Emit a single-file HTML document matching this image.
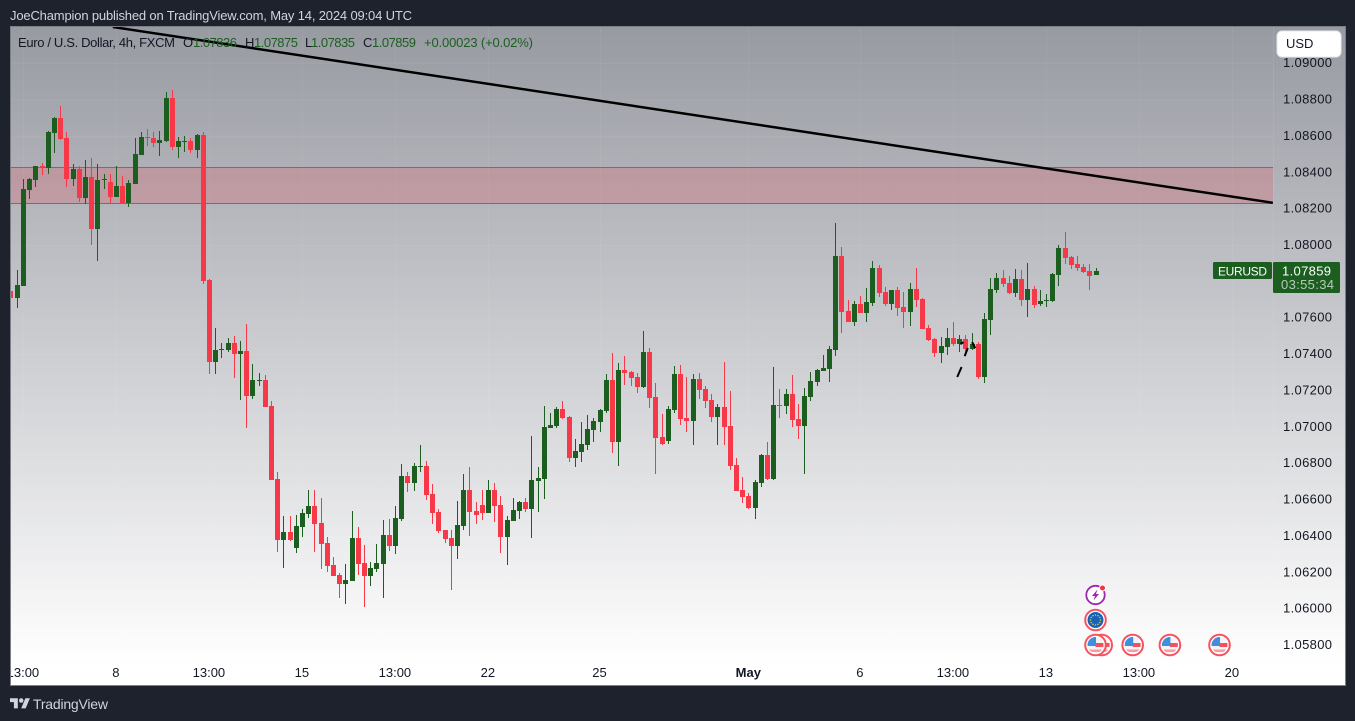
<!DOCTYPE html>
<html lang="en">
<head>
<meta charset="utf-8">
<title>EURUSD 4h chart</title>
<style>
html,body{margin:0;padding:0;background:#1e222d;width:1355px;height:721px;overflow:hidden}
svg{display:block;font-family:"Liberation Sans",sans-serif}
text{font-family:"Liberation Sans",sans-serif}
</style>
</head>
<body>
<svg id="chart" xmlns="http://www.w3.org/2000/svg" width="1355" height="721" viewBox="0 0 1355 721">
  <defs>
    <linearGradient id="paneGradient" x1="0" y1="0" x2="0" y2="1">
      <stop offset="0" stop-color="#989aa2"/>
      <stop offset="0.97" stop-color="#ffffff"/>
      <stop offset="1" stop-color="#ffffff"/>
    </linearGradient>
    <clipPath id="paneClip"><rect x="11" y="27" width="1262" height="628"/></clipPath>
    <clipPath id="frameClip"><rect x="11" y="27" width="1334" height="658"/></clipPath>
  </defs>
  <rect x="0" y="0" width="1355" height="721" fill="#1e222d"/>
  <text x="10" y="20" font-size="13" fill="#d1d4dc" textLength="402" lengthAdjust="spacing">JoeChampion published on TradingView.com, May 14, 2024 09:04 UTC</text>
  <rect x="10.5" y="26.5" width="1335" height="659" fill="none" stroke="#7d7f87" stroke-width="1"/>
  <rect x="11" y="27" width="1334" height="658" fill="url(#paneGradient)"/>
  <g id="gridLayer"></g>
  <g id="zoneLayer" clip-path="url(#paneClip)"></g>
  <g id="candleLayer" clip-path="url(#paneClip)"></g>
  <g id="drawingLayer" clip-path="url(#paneClip)"></g>
  <g font-size="13">
    <text x="18" y="47" fill="#131722" textLength="157" lengthAdjust="spacing">Euro / U.S. Dollar, 4h, FXCM</text>
    <text x="183" y="47" fill="#131722">O</text>
    <text x="193" y="47" fill="#1b5e20" textLength="44">1.07836</text>
    <text x="245" y="47" fill="#131722">H</text>
    <text x="254" y="47" fill="#1b5e20" textLength="44">1.07875</text>
    <text x="305" y="47" fill="#131722">L</text>
    <text x="311" y="47" fill="#1b5e20" textLength="44">1.07835</text>
    <text x="363" y="47" fill="#131722">C</text>
    <text x="372" y="47" fill="#1b5e20" textLength="44">1.07859</text>
    <text x="424" y="47" fill="#1b5e20" textLength="109">+0.00023 (+0.02%)</text>
  </g>
  <g id="eventLayer"></g>
  <g id="axisLayer" clip-path="url(#frameClip)"></g>
  <g>
    <rect x="1277" y="31" width="64" height="26" rx="5" fill="#ffffff" stroke="#e6e7ea" stroke-width="1"/>
    <text x="1286" y="48" font-size="13" fill="#131722">USD</text>
  </g>
  <g id="badgeLayer"></g>
  <g>
    <g transform="translate(10,696) scale(0.56)" fill="#d1d4dc">
      <path d="M14 22H7V11H0V4h14v18z"/>
      <circle cx="20" cy="8" r="4"/>
      <path d="M28 22h-8l7.5-18h8L28 22z"/>
    </g>
    <text x="33" y="709" font-size="14" font-weight="400" fill="#d1d4dc" textLength="75">TradingView</text>
  </g>
</svg>
<script>
const firstBar = -2;
const opens = [
1.07747,1.07708,1.07774,1.08303,1.08358,1.08432,1.08424,1.08616,1.08699,1.08589,
1.08363,1.08418,1.08259,1.08374,1.08088,1.08358,1.08347,1.08264,1.08325,1.08231,
1.08336,1.08495,1.08594,1.08589,1.08561,1.08572,1.08809,1.08539,1.08567,1.08572,
1.08523,1.08605,1.07807,1.07356,1.07422,1.07422,1.07461,1.07400,1.07417,1.07169,
1.07252,1.07257,1.07114,1.06713,1.06377,1.06421,1.06333,1.06449,1.06520,1.06564,
1.06471,1.06361,1.06240,1.06185,1.06135,1.06152,1.06388,1.06251,1.06179,1.06218,
1.06245,1.06405,1.06344,1.06493,1.06729,1.06691,1.06779,1.06784,1.06630,1.06531,
1.06432,1.06388,1.06344,1.06454,1.06652,1.06537,1.06570,1.06526,1.06652,1.06570,
1.06394,1.06482,1.06537,1.06586,1.06548,1.06702,1.06713,1.06993,1.07004,1.07098,
1.07054,1.06828,1.06861,1.06900,1.06982,1.07026,1.07087,1.07257,1.06916,1.07312,
1.07301,1.07274,1.07219,1.07411,1.07164,1.06944,1.06922,1.07092,1.07290,1.07048,
1.07032,1.07263,1.07208,1.07147,1.07054,1.07109,1.07004,1.06790,1.06652,1.06619,
1.06553,1.06691,1.06845,1.06713,1.07120,1.07114,1.07180,1.07043,1.07004,1.07164,
1.07246,1.07307,1.07318,1.07422,1.07939,1.07637,1.07576,1.07675,1.07626,1.07681,
1.07873,1.07741,1.07675,1.07752,1.07659,1.07631,1.07758,1.07703,1.07543,1.07483,
1.07406,1.07439,1.07488,1.07455,1.07483,1.07428,1.07455,1.07274,1.07587,1.07752,
1.07818,1.07791,1.07736,1.07813,1.07697,1.07758,1.07675,1.07692,1.07692,1.07835,
1.07983,1.07934,1.07895,1.07879,1.07857,1.07836
];
const highs = [
1.07774,1.07862,1.08363,1.08369,1.08435,1.08451,1.08627,1.08704,1.08765,1.08622,
1.08446,1.08435,1.08468,1.08479,1.08446,1.08391,1.08391,1.08435,1.08380,1.08358,
1.08589,1.08622,1.08638,1.08622,1.08627,1.08842,1.08853,1.08594,1.08600,1.08589,
1.08611,1.08622,1.07813,1.07543,1.07461,1.07488,1.07499,1.07472,1.07565,1.07345,
1.07296,1.07285,1.07142,1.06751,1.06509,1.06509,1.06515,1.06548,1.06652,1.06652,
1.06608,1.06394,1.06284,1.06196,1.06245,1.06537,1.06449,1.06350,1.06256,1.06355,
1.06487,1.06493,1.06564,1.06795,1.06751,1.06801,1.06900,1.06812,1.06685,1.06548,
1.06432,1.06432,1.06592,1.06740,1.06779,1.06586,1.06652,1.06707,1.06691,1.06619,
1.06509,1.06608,1.06592,1.06608,1.06949,1.06779,1.07114,1.07076,1.07109,1.07142,
1.07059,1.06933,1.07026,1.07065,1.07048,1.07098,1.07290,1.07406,1.07351,1.07389,
1.07307,1.07296,1.07527,1.07433,1.07241,1.07070,1.07114,1.07334,1.07340,1.07274,
1.07290,1.07296,1.07224,1.07180,1.07125,1.07356,1.07197,1.06828,1.06724,1.06636,
1.06707,1.06850,1.06916,1.07329,1.07208,1.07208,1.07285,1.07125,1.07213,1.07301,
1.07318,1.07395,1.07444,1.08121,1.07989,1.07697,1.07692,1.07719,1.07763,1.07912,
1.07890,1.07769,1.07752,1.07769,1.07741,1.07791,1.07873,1.07708,1.07560,1.07488,
1.07494,1.07543,1.07576,1.07505,1.07505,1.07516,1.07466,1.07626,1.07818,1.07846,
1.07862,1.07829,1.07868,1.07862,1.07901,1.07774,1.07752,1.07730,1.07846,1.08000,
1.08071,1.07939,1.07939,1.07895,1.07895,1.07875
];
const lows = [
1.07642,1.07653,1.07774,1.08253,1.08319,1.08385,1.08391,1.08506,1.08578,1.08319,
1.08325,1.08237,1.08226,1.08000,1.07912,1.08308,1.08226,1.08264,1.08226,1.08209,
1.08336,1.08495,1.08545,1.08539,1.08490,1.08567,1.08523,1.08479,1.08512,1.08506,
1.08479,1.07785,1.07290,1.07290,1.07378,1.07411,1.07268,1.07147,1.06993,1.07153,
1.07224,1.07109,1.06707,1.06311,1.06223,1.06372,1.06306,1.06394,1.06498,1.06311,
1.06218,1.06201,1.06179,1.06058,1.06025,1.06152,1.06185,1.06009,1.06124,1.06201,
1.06058,1.06317,1.06300,1.06482,1.06641,1.06647,1.06751,1.06597,1.06465,1.06416,
1.06361,1.06102,1.06273,1.06432,1.06399,1.06465,1.06487,1.06526,1.06476,1.06306,
1.06240,1.06482,1.06493,1.06531,1.06388,1.06531,1.06603,1.06993,1.06993,1.07043,
1.06806,1.06779,1.06806,1.06872,1.06916,1.06971,1.07076,1.06856,1.06784,1.07230,
1.07224,1.07186,1.07213,1.07103,1.06740,1.06900,1.06905,1.07076,1.07010,1.06971,
1.06900,1.07153,1.07103,1.07026,1.06900,1.06900,1.06762,1.06647,1.06581,1.06548,
1.06493,1.06669,1.06707,1.06707,1.07048,1.07070,1.06999,1.06933,1.06740,1.07142,
1.07224,1.07307,1.07246,1.07389,1.07516,1.07576,1.07554,1.07626,1.07576,1.07664,
1.07714,1.07664,1.07642,1.07609,1.07543,1.07554,1.07659,1.07538,1.07472,1.07384,
1.07351,1.07395,1.07444,1.07411,1.07389,1.07422,1.07263,1.07241,1.07505,1.07736,
1.07769,1.07730,1.07714,1.07664,1.07604,1.07653,1.07664,1.07659,1.07686,1.07774,
1.07895,1.07868,1.07857,1.07846,1.07752,1.07835
];
const closes = [
1.07708,1.07780,1.08308,1.08363,1.08435,1.08426,1.08622,1.08699,1.08583,1.08363,
1.08418,1.08259,1.08374,1.08088,1.08358,1.08363,1.08264,1.08325,1.08226,1.08341,
1.08501,1.08594,1.08589,1.08561,1.08578,1.08809,1.08539,1.08572,1.08572,1.08523,
1.08605,1.07802,1.07356,1.07422,1.07428,1.07461,1.07400,1.07417,1.07169,1.07257,
1.07257,1.07109,1.06707,1.06377,1.06421,1.06377,1.06454,1.06526,1.06564,1.06465,
1.06355,1.06234,1.06179,1.06135,1.06157,1.06388,1.06245,1.06179,1.06223,1.06251,
1.06405,1.06344,1.06498,1.06729,1.06691,1.06784,1.06784,1.06625,1.06526,1.06427,
1.06383,1.06344,1.06460,1.06652,1.06531,1.06515,1.06526,1.06652,1.06564,1.06394,
1.06487,1.06542,1.06586,1.06548,1.06707,1.06718,1.06999,1.07010,1.07098,1.07048,
1.06828,1.06867,1.06905,1.06988,1.07032,1.07092,1.07257,1.06916,1.07312,1.07296,
1.07268,1.07219,1.07411,1.07158,1.06938,1.06905,1.07098,1.07290,1.07043,1.07032,
1.07263,1.07202,1.07142,1.07054,1.07109,1.06999,1.06784,1.06647,1.06614,1.06553,
1.06696,1.06845,1.06713,1.07120,1.07114,1.07180,1.07037,1.07004,1.07169,1.07252,
1.07312,1.07323,1.07428,1.07939,1.07631,1.07576,1.07675,1.07626,1.07686,1.07873,
1.07736,1.07675,1.07752,1.07653,1.07631,1.07758,1.07697,1.07538,1.07477,1.07406,
1.07444,1.07488,1.07455,1.07483,1.07428,1.07455,1.07274,1.07593,1.07758,1.07818,
1.07785,1.07736,1.07813,1.07697,1.07758,1.07670,1.07692,1.07697,1.07840,1.07983,
1.07928,1.07890,1.07873,1.07851,1.07829,1.07859
];
const priceTicks = [1.09,1.088,1.086,1.084,1.082,1.08,1.078,1.076,1.074,1.072,1.07,1.068,1.066,1.064,1.062,1.06,1.058];
const timeTickBars = [0,15,30,45,60,75,93,117,135,150,165,180,195];
const timeTickLabels = ["13:00","8","13:00","15","13:00","22","25","May","6","13:00","13","13:00","20"];
const zonePrices = [1.08426,1.08228];
const trendBars = [14.5,201.6];
const trendPrices = [1.09199,1.08232];
const dashBarsStart = [150.7,151.2,151.9,153.1];
const dashBarsEnd = [151.4,151.7,152.4,153.6];
const dashPricesStart = [1.07274,1.07455,1.07389,1.07466];
const dashPricesEnd = [1.07329,1.07466,1.07433,1.07433];
const lightningEventBars = [173];
const euEventBars = [173];
const usEventBars = [173,174,179,185,193];
const symbolName = "EURUSD";
const countdown = "03:55:34";

const NS = "http://www.w3.org/2000/svg";
const RED = "#f73848";
const GREEN = "#1b5e20";
function x(bar){return 22.9 + 6.2*bar;}
function y(price){return 245 + (1.08 - price)*18185;}
function mk(tag,parent,attrs,txt){
  const el=document.createElementNS(NS,tag);
  for(const k in attrs){el.setAttribute(k,attrs[k]);}
  if(txt!==undefined){el.textContent=txt;}
  parent.appendChild(el);
  return el;
}

const gridLayer=document.getElementById("gridLayer");
priceTicks.forEach(function(p){
  const el=mk("rect",gridLayer,{x:11,y:Math.round(y(p)),width:1262,height:1,fill:"#ffffff","fill-opacity":0.05});
  
  
});
timeTickBars.forEach(function(b){
  const px=Math.round(x(b));
  if(px<11){return;}
  const el=mk("rect",gridLayer,{x:px,y:27,width:1,height:628,fill:"#ffffff","fill-opacity":0.05});
  
  
});
const axisEdge=mk("rect",gridLayer,{x:1273,y:27,width:1,height:658,fill:"#ffffff","fill-opacity":0.08});



const zoneLayer=document.getElementById("zoneLayer");
const zoneTop=y(zonePrices[0]);
const zoneBottom=y(zonePrices[1]);
const zoneFill=mk("rect",zoneLayer,{x:11,y:zoneTop,width:1262,height:zoneBottom-zoneTop,fill:"#f23645","fill-opacity":0.2});


[zoneTop,zoneBottom].forEach(function(v){
  const ln=mk("rect",zoneLayer,{x:11,y:Math.floor(v),width:1262,height:1,fill:"#d9434f"});
  
  
});

const candleLayer=document.getElementById("candleLayer");
opens.forEach(function(o,i){
  const c=closes[i];
  const color=c>=o?GREEN:RED;
  const cx=Math.round(x(firstBar+i));
  const top=Math.round(y(Math.max(o,c)));
  const bot=Math.round(y(Math.min(o,c)));
  const wt=Math.round(y(highs[i]));
  const wb=Math.round(y(lows[i]));
  const g=mk("g",candleLayer,{});
  
  
  mk("rect",g,{x:cx,y:wt,width:1,height:Math.max(1,wb-wt),fill:color,"shape-rendering":"crispEdges"});
  mk("rect",g,{x:cx-2,y:top,width:5,height:Math.max(1,bot-top),fill:color,"shape-rendering":"crispEdges"});
});

const drawingLayer=document.getElementById("drawingLayer");
const trend=mk("line",drawingLayer,{x1:x(trendBars[0]),y1:y(trendPrices[0]),x2:x(trendBars[1]),y2:y(trendPrices[1]),stroke:"#000000","stroke-width":2.5});


dashBarsStart.forEach(function(b,i){
  const seg=mk("line",drawingLayer,{x1:x(b),y1:y(dashPricesStart[i]),x2:x(dashBarsEnd[i]),y2:y(dashPricesEnd[i]),stroke:"#000000","stroke-width":2});
  
  
});

const axisLayer=document.getElementById("axisLayer");
priceTicks.forEach(function(p){
  const t=mk("text",axisLayer,{x:1283,y:y(p)+4,"font-size":13,fill:"#131722",textLength:49},p.toFixed(5));
  
  
});
timeTickLabels.forEach(function(lbl,i){
  const t=mk("text",axisLayer,{x:x(timeTickBars[i]),y:677,"font-size":13,fill:"#131722","text-anchor":"middle","font-weight":lbl==="May"?"700":"400"},lbl);
  
  
});

const eventLayer=document.getElementById("eventLayer");
const defs=document.querySelector("defs");
lightningEventBars.forEach(function(b){
  const cx=x(b);
  const g=mk("g",eventLayer,{transform:"translate("+cx+",595)"});
  
  
  mk("circle",g,{r:9.2,fill:"#ffffff",stroke:"#9c27b0","stroke-width":1.8});
  mk("path",g,{d:"M2 -5.5 L-3.5 1 L-0.5 1 L-2 5.5 L3.5 -1 L0.5 -1 Z",fill:"#9c27b0"});
  mk("circle",g,{cx:7,cy:-7,r:3.5,fill:"#ffffff"});
  mk("circle",g,{cx:7,cy:-7,r:2.5,fill:"#f23645"});
});
euEventBars.forEach(function(b){
  const cx=x(b);
  const g=mk("g",eventLayer,{transform:"translate("+cx+",620)"});
  
  
  mk("circle",g,{r:10.3,fill:"#ffffff",stroke:"#f7525f","stroke-width":2});
  mk("circle",g,{r:8,fill:"#1763b8"});
  for(let s=0;s<12;s++){
    const a=s*Math.PI/6;
    mk("circle",g,{cx:5*Math.cos(a),cy:5*Math.sin(a),r:0.8,fill:"#e0c030"});
  }
});
const usClip=mk("clipPath",defs,{id:"usFlagClip"});
mk("circle",usClip,{r:8});
usEventBars.slice().reverse().forEach(function(b){
  const cx=x(b);
  const g=mk("g",eventLayer,{transform:"translate("+cx+",645)"});
  
  
  mk("circle",g,{r:10.3,fill:"#ffffff",stroke:"#f7525f","stroke-width":2});
  const f=mk("g",g,{"clip-path":"url(#usFlagClip)"});
  mk("rect",f,{x:-8,y:-8,width:16,height:16,fill:"#f4f4f6"});
  mk("rect",f,{x:0,y:-2,width:8,height:4,fill:"#f0525f"});
  mk("rect",f,{x:-8,y:4.5,width:16,height:2.5,fill:"#f79aa2"});
  mk("rect",f,{x:-8,y:-8,width:8.5,height:9,fill:"#3f8fe0"});
});

const badgeLayer=document.getElementById("badgeLayer");
const lastClose=closes[closes.length-1];
const lastY=Math.round(y(lastClose));
const symBox=mk("rect",badgeLayer,{x:1213,y:lastY-9,width:59,height:17,rx:1.5,fill:GREEN});


const symText=mk("text",badgeLayer,{x:1218,y:lastY+4.5,"font-size":12,fill:"#ffffff",textLength:49},symbolName);


const priceBox=mk("rect",badgeLayer,{x:1273,y:lastY-9,width:67,height:31,rx:1.5,fill:GREEN});


const priceText=mk("text",badgeLayer,{x:1282,y:lastY+4.5,"font-size":13,fill:"#ffffff",textLength:49},lastClose.toFixed(5));


const cdText=mk("text",badgeLayer,{x:1281,y:lastY+18,"font-size":13,fill:"#b7c9b8",textLength:53},countdown);


</script>
</body>
</html>
